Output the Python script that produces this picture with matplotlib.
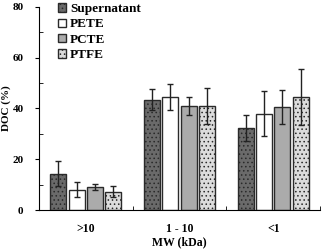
import numpy as np
import matplotlib.pyplot as plt

plt.rcParams['font.family'] = 'Liberation Serif'
plt.rcParams['font.weight'] = 'bold'
plt.rcParams['axes.labelweight'] = 'bold'
plt.rcParams['hatch.linewidth'] = 0.6

# data
groups = ['>10', '1 - 10', '<1']
series = ['Supernatant', 'PETE', 'PCTE', 'PTFE']
values = [[14.3, 43.5, 32.3],
          [8.0, 44.5, 38.0],
          [9.0, 41.0, 40.5],
          [7.2, 41.0, 44.5]]
errors = [[5.0, 4.0, 5.0],
          [3.0, 5.0, 9.0],
          [1.2, 3.5, 6.8],
          [2.2, 7.0, 11.0]]

colors = ['#6a6a6a', 'white', '#ababab', '#dcdcdc']
hatches = ['....', '', '', '....']

fig = plt.figure(figsize=(3.24, 2.5), dpi=100)
ax = fig.add_axes([0.12, 0.16, 0.868, 0.812])

x = np.arange(len(groups))
w = 0.17
step = 0.196
for i, s in enumerate(series):
    off = (i - 1.5) * step
    ax.bar(x + off, values[i], w, color=colors[i], edgecolor='#2a2a2a',
           linewidth=1.0, hatch=hatches[i], label=s,
           yerr=errors[i], capsize=2.2,
           error_kw=dict(ecolor='#222222', elinewidth=1.0, capthick=1.0))

ax.set_xlim(-0.5, 2.5)
ax.set_ylim(0, 80)
ax.set_yticks([0, 20, 40, 60, 80])
ax.set_yticks([10, 30, 50, 70], minor=True)
ax.set_xticks(x)
ax.set_xticklabels(groups)
ax.set_xticks([0.5, 1.5, 2.5], minor=True)
ax.tick_params(axis='x', which='major', length=0, pad=9, labelsize=8.5)
ax.tick_params(axis='x', which='minor', direction='in', length=3)
ax.tick_params(axis='y', which='major', direction='out', length=3, labelsize=8, pad=8)
ax.tick_params(axis='y', which='minor', direction='in', length=3)
ax.spines['top'].set_visible(False)
ax.spines['right'].set_visible(False)

ax.set_ylabel('DOC (%)', fontsize=8, labelpad=1)
ax.set_xlabel('MW (kDa)', fontsize=8.5, labelpad=1)

ax.legend(loc='upper left', bbox_to_anchor=(0.05, 1.045), frameon=False,
          fontsize=9.5, handlelength=0.6, handleheight=0.6, handletextpad=0.3,
          labelspacing=0.25, borderaxespad=0)

fig.savefig('out.png', dpi=100)
